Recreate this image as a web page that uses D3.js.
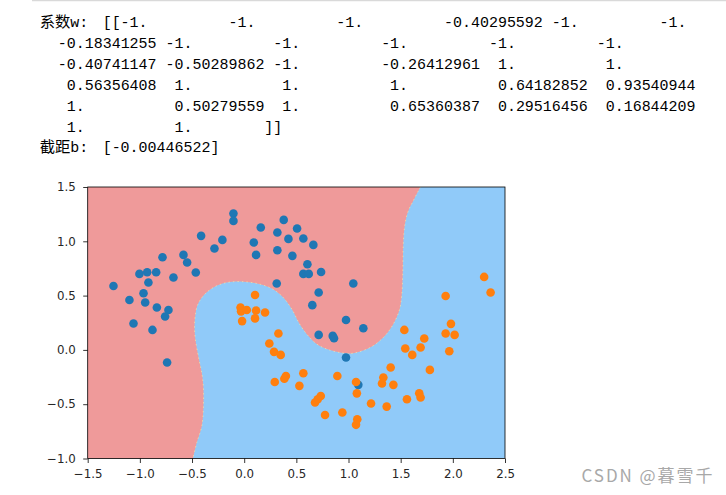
<!DOCTYPE html>
<html>
<head>
<meta charset="utf-8">
<script src="https://cdn.jsdelivr.net/npm/d3@7"></script>
<style>
  html, body { margin: 0; padding: 0; background: #fff; }
  svg { display: block; }
</style>
</head>
<body>
<svg id="chart" width="726" height="495"></svg>
<script>
// ---------------- data ----------------
const outputLines = [
  [["系数", "cjk", 0], ["w:", "mono", 3.4], ["[[-1.         -1.         -1.         -0.40295592 -1.         -1.", "mono", 7]],
  [["  -0.18341255 -1.         -1.         -1.         -1.         -1.", "mono", 0]],
  [["  -0.40741147 -0.50289862 -1.         -0.26412961  1.          1.", "mono", 0]],
  [["   0.56356408  1.          1.          1.          0.64182852  0.93540944", "mono", 0]],
  [["   1.          0.50279559  1.          0.65360387  0.29516456  0.16844209", "mono", 0]],
  [["   1.          1.        ]]", "mono", 0]],
  [["截距", "cjk", 0], ["b:", "mono", 3.4], ["[-0.00446522]", "mono", 7]]
];

const xTicks = [-1.5, -1.0, -0.5, 0.0, 0.5, 1.0, 1.5, 2.0, 2.5];
const yTicks = [-1.0, -0.5, 0.0, 0.5, 1.0, 1.5];

// class 0 (blue)
const class0 = [
  [-1.253,0.589],[-1.10,0.46],[-1.061,0.243],[-1.004,0.70],[-0.93,0.715],[-0.844,0.715],
  [-0.918,0.62],[-0.965,0.522],[-0.949,0.436],[-0.837,0.39],[-0.726,0.368],[-0.758,0.307],
  [-0.879,0.184],[-0.783,0.853],[-0.678,0.667],[-0.582,0.875],[-0.547,0.805],[-0.464,0.713],
  [-0.413,1.05],[-0.285,0.934],[-0.209,1.013],[-0.103,1.256],[-0.103,1.188],[0.092,0.989],
  [0.114,0.875],[0.159,1.127],[0.318,1.081],[0.318,0.918],[0.312,0.611],[0.379,1.197],
  [0.507,1.118],[0.424,1.022],[0.567,1.026],[0.663,0.967],[0.462,0.866],[0.606,0.789],
  [0.567,0.70],[0.619,0.70],[0.737,0.718],[1.046,0.611],[0.714,0.528],[0.653,0.412],
  [0.976,0.276],[0.714,0.138],[0.849,0.129],[0.861,0.108],[0.976,-0.07],[1.142,0.20],
  [-0.739,-0.116],[1.094,-0.322]
];

// class 1 (orange)
const class1 = [
  [0.104,0.505],[-0.035,0.39],[-0.03,0.355],[0.025,0.367],[0.114,0.363],[0.2,0.345],
  [-0.02,0.265],[0.104,0.29],[0.328,0.151],[0.241,0.059],[0.286,-0.018],[0.35,-0.046],
  [0.567,-0.215],[0.40,-0.24],[0.385,-0.265],[0.293,-0.295],[0.529,-0.331],[0.893,-0.24],
  [1.072,-0.295],[0.734,-0.424],[0.705,-0.454],[0.679,-0.484],[1.08,-0.40],[0.775,-0.599],
  [0.941,-0.576],[1.084,-0.638],[1.072,-0.69],[1.216,-0.494],[1.366,-0.522],[1.321,-0.31],
  [1.334,-0.254],[1.43,-0.322],[1.404,-0.162],[1.535,0.184],[1.544,0.013],[1.611,-0.046],
  [1.56,-0.454],[1.691,0.022],[1.726,0.105],[1.678,-0.399],[1.691,-0.438],[1.78,-0.184],
  [1.931,0.151],[1.982,0.24],[2.017,0.138],[1.966,-0.012],[2.30,0.672],[2.362,0.528],
  [1.931,0.497]
];

// decision boundary (class 0 region lies to the upper-left of it)
const boundary = [
  [-0.496,-1.02],[-0.454,-0.853],[-0.406,-0.70],[-0.39,-0.50],[-0.392,-0.33],[-0.405,-0.22],
  [-0.435,-0.08],[-0.468,0.10],[-0.476,0.22],[-0.468,0.32],[-0.448,0.41],[-0.39,0.50],
  [-0.295,0.575],[-0.167,0.62],[-0.008,0.628],[0.152,0.605],[0.28,0.557],[0.375,0.482],
  [0.46,0.37],[0.53,0.24],[0.60,0.145],[0.695,0.055],[0.80,0.005],[0.93,-0.026],
  [1.046,-0.03],[1.206,0.022],[1.333,0.114],[1.429,0.237],[1.49,0.375],[1.51,0.50],
  [1.52,0.70],[1.525,0.97],[1.541,1.157],[1.573,1.28],[1.62,1.372],[1.669,1.464],[1.70,1.52]
];

const xDomain = [-1.5, 2.5];
const yDomain = [-1.0, 1.5];

// ---------------- drawing ----------------
const svg = d3.select("#chart");
svg.append("rect").attr("width", 726).attr("height", 495).attr("fill", "#fff");

// jupyter cell top border
svg.append("line").attr("x1", 32).attr("x2", 726).attr("y1", 0.5).attr("y2", 0.5)
  .attr("stroke", "#d9d9d9").attr("stroke-width", 1.5);

// printed output text
const colW = 8.98, textX0 = 39.8, base0 = 27, lineH = 20.9;
const txt = svg.append("g");
outputLines.forEach((segs, i) => {
  segs.forEach(([s, kind, col]) => {
    const t = txt.append("text")
      .attr("x", textX0 + col * colW)
      .attr("y", base0 + i * lineH)
      .attr("fill", "#000")
      .style("white-space", "pre")
      .attr("xml:space", "preserve")
      .text(s);
    if (kind === "cjk") {
      t.attr("font-family", "'Noto Sans CJK SC', sans-serif").attr("font-size", "15.3px");
    } else {
      t.attr("font-family", "'Liberation Mono', 'DejaVu Sans Mono', monospace").attr("font-size", "14.97px");
    }
  });
});

// chart
const L = 87.7, R = 505, T = 187, B = 458.5;
const x = d3.scaleLinear().domain(xDomain).range([L, R]);
const y = d3.scaleLinear().domain(yDomain).range([B, T]);

svg.append("defs").append("clipPath").attr("id", "plotclip")
  .append("rect").attr("x", L).attr("y", T).attr("width", R - L).attr("height", B - T);

const plot = svg.append("g").attr("clip-path", "url(#plotclip)");
plot.append("rect").attr("x", L).attr("y", T).attr("width", R - L).attr("height", B - T)
  .attr("fill", "#90CAF9");

const curve = d3.line().x(d => x(d[0])).y(d => y(d[1])).curve(d3.curveCatmullRom.alpha(0.5));
const regionPath = curve(boundary) +
  `L${x(-1.6)},${y(1.6)}L${x(-1.6)},${y(-1.1)}Z`;
plot.append("path").attr("d", regionPath).attr("fill", "#EF9A9A");
plot.append("path").attr("d", curve(boundary)).attr("fill", "none")
  .attr("stroke", "#FFF59D").attr("stroke-width", 0.8).attr("stroke-dasharray", "1.5,3").attr("opacity", 0.7);

const r = 4.3;
plot.append("g").selectAll("circle").data(class0).join("circle")
  .attr("cx", d => x(d[0])).attr("cy", d => y(d[1])).attr("r", r).attr("fill", "#1f77b4");
plot.append("g").selectAll("circle").data(class1).join("circle")
  .attr("cx", d => x(d[0])).attr("cy", d => y(d[1])).attr("r", r).attr("fill", "#ff7f0e");

// axes
const fmt = d3.format(".1f");
const xAxis = svg.append("g").attr("transform", `translate(0,${B})`)
  .call(d3.axisBottom(x).tickValues(xTicks).tickFormat(fmt).tickSize(4.5).tickPadding(7));
const yAxis = svg.append("g").attr("transform", `translate(${L},0)`)
  .call(d3.axisLeft(y).tickValues(yTicks).tickFormat(fmt).tickSize(4.5).tickPadding(7.5));
[xAxis, yAxis].forEach(a => {
  a.select(".domain").remove();
  a.selectAll(".tick line").attr("stroke", "#000").attr("stroke-width", 0.8);
  a.selectAll(".tick text").attr("fill", "#262626")
    .attr("font-family", "'DejaVu Sans', sans-serif").attr("font-size", "11.8px");
});

// spines
svg.append("rect").attr("x", L).attr("y", T).attr("width", R - L).attr("height", B - T)
  .attr("fill", "none").attr("stroke", "#000").attr("stroke-width", 0.8);

// watermark
svg.append("text").attr("x", 581.5).attr("y", 481.5)
  .attr("font-family", "'Noto Sans CJK SC', 'Noto Sans', sans-serif").attr("font-size", "17px")
  .attr("fill", "#a8a8a8").attr("textLength", 131).attr("lengthAdjust", "spacing")
  .text("CSDN @暮雪千");
</script>
</body>
</html>
